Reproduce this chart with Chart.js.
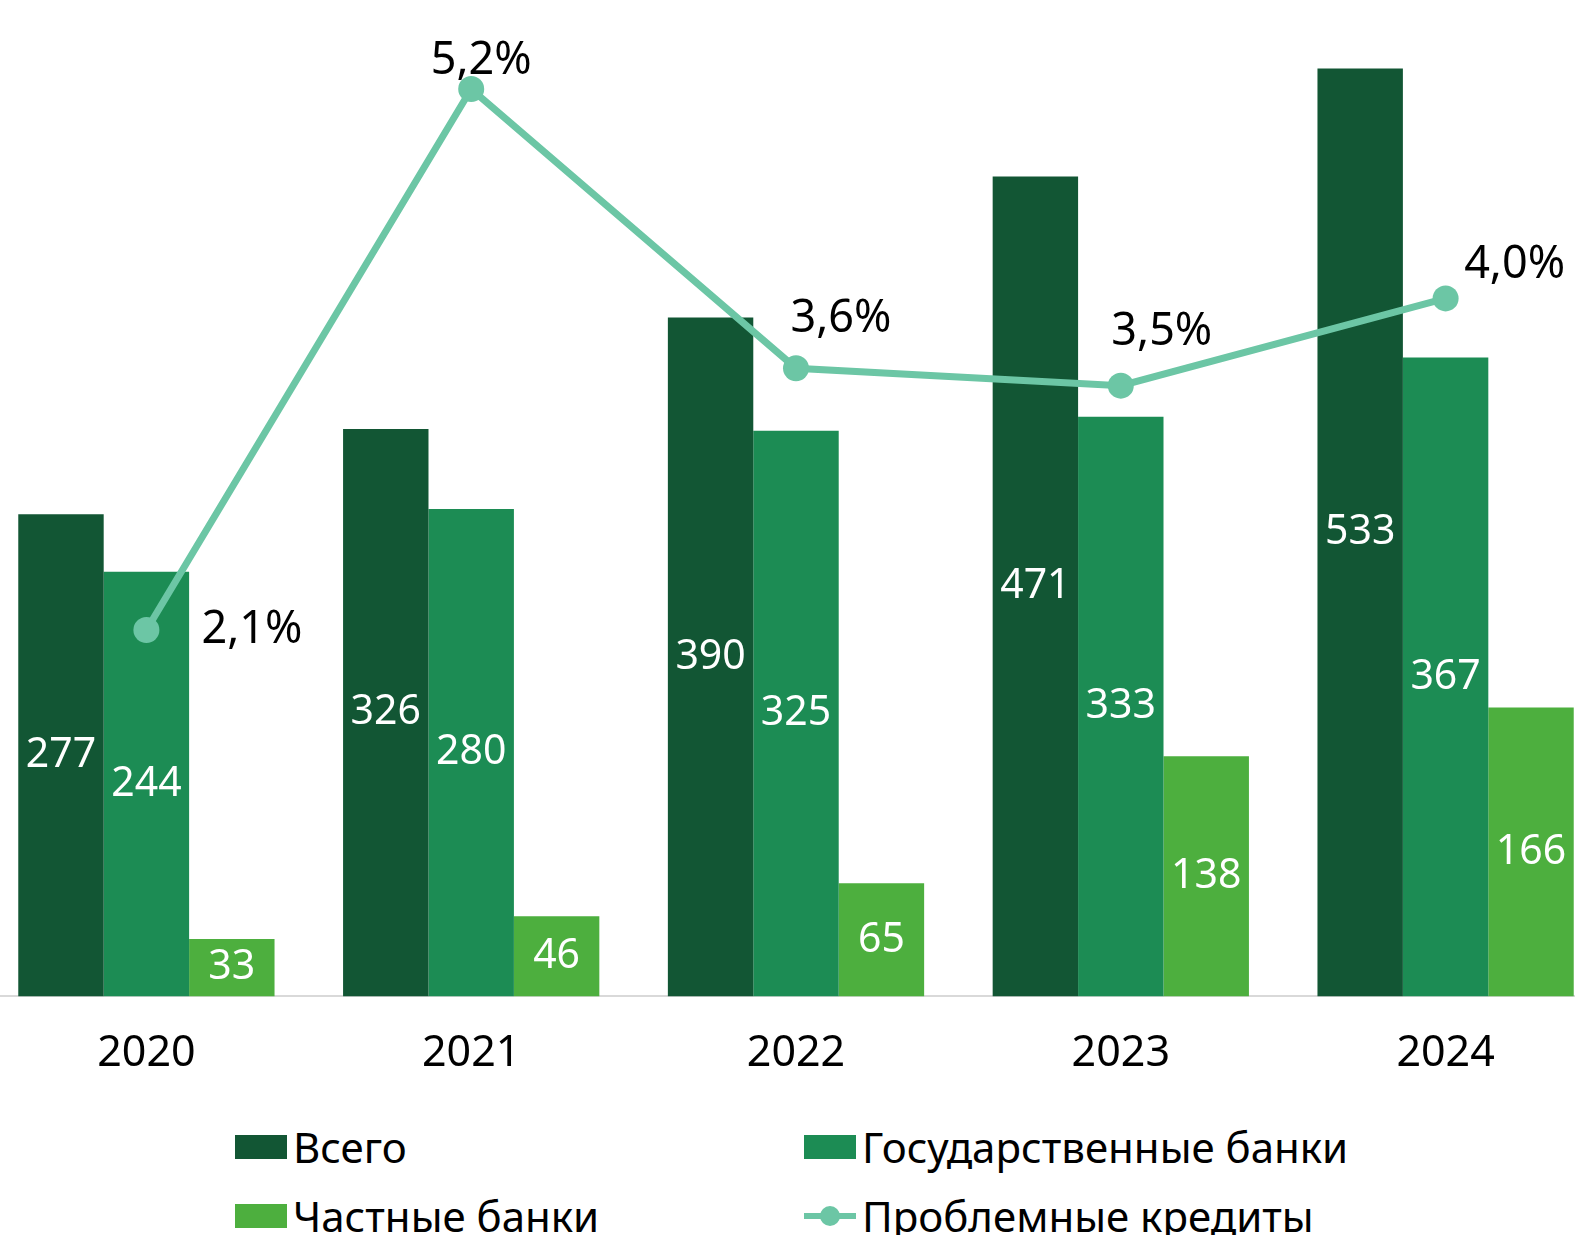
<!DOCTYPE html>
<html><head><meta charset="utf-8">
<script src="https://cdn.jsdelivr.net/npm/chart.js@4"></script>
<style>
html,body{margin:0;padding:0;background:#fff;width:1575px;height:1235px;overflow:hidden;position:relative;font-family:"Noto Sans",sans-serif;}
#c{position:absolute;left:-16px;top:0;}
.lg{position:absolute;display:flex;align-items:center;font-size:42px;color:#000;white-space:nowrap;}
.sw{width:52px;height:24px;margin-right:6px;}
.ln{width:52px;height:24px;margin-right:6px;position:relative;}
.ln:before{content:"";position:absolute;left:0;right:0;top:9px;height:6px;background:#6CC6A5;}
.ln:after{content:"";position:absolute;left:16px;top:2px;width:20px;height:20px;border-radius:50%;background:#6CC6A5;}
</style></head>
<body>
<canvas id="c" width="1624" height="1104"></canvas>
<div class="lg" style="left:235px;top:1118px"><div class="sw" style="background:#125634"></div>Всего</div>
<div class="lg" style="left:804px;top:1118px"><div class="sw" style="background:#1C8C54"></div>Государственные банки</div>
<div class="lg" style="left:235px;top:1187px"><div class="sw" style="background:#4DAF3E"></div>Частные банки</div>
<div class="lg" style="left:804px;top:1187px"><div class="ln"></div>Проблемные кредиты</div>
<script>
const years = ["2020","2021","2022","2023","2024"];
const total = [277,326,390,471,533];
const stateBanks = [244,280,325,333,367];
const privateBanks = [33,46,65,138,166];
const npl = [2.1,5.2,3.6,3.5,4.0];
const nplLabels = ["2,1%","5,2%","3,6%","3,5%","4,0%"];

const labelOffsets = [[55,0,'left'],[10,-28,'center'],[45,-49,'center'],[41,-53,'center'],[69,-33,'center']];

const labelPlugin = {
  id:'labels',
  afterDatasetsDraw(chart){
    const ctx = chart.ctx;
    ctx.save();
    ctx.textBaseline='middle';
    for(let d=0; d<3; d++){
      const meta = chart.getDatasetMeta(d);
      const ds = chart.data.datasets[d];
      meta.data.forEach((bar,i)=>{
        ctx.fillStyle='#fff';
        ctx.font='41px "Noto Sans"';
        ctx.textAlign='center';
        ctx.fillText(String(ds.data[i]), bar.x, (bar.y+bar.base)/2);
      });
    }
    const lm = chart.getDatasetMeta(3);
    lm.data.forEach((pt,i)=>{
      const o = labelOffsets[i];
      ctx.fillStyle='#000';
      ctx.font='45px "Noto Sans"';
      ctx.textAlign=o[2];
      ctx.fillText(nplLabels[i], pt.x+o[0], pt.y+o[1]);
    });
    ctx.restore();
  }
};

new Chart(document.getElementById('c'),{
  type:'bar',
  data:{
    labels:years,
    datasets:[
      {label:'Всего',data:total,backgroundColor:'#125634',order:1,yAxisID:'y'},
      {label:'Государственные банки',data:stateBanks,backgroundColor:'#1C8C54',order:1,yAxisID:'y'},
      {label:'Частные банки',data:privateBanks,backgroundColor:'#4DAF3E',order:1,yAxisID:'y'},
      {type:'line',label:'Проблемные кредиты',data:npl,borderColor:'#6CC6A5',backgroundColor:'#6CC6A5',borderWidth:7,pointRadius:13,pointBackgroundColor:'#6CC6A5',pointBorderWidth:0,order:0,yAxisID:'y2',tension:0}
    ]
  },
  options:{
    responsive:false,animation:false,
    categoryPercentage:0.789,barPercentage:1,
    layout:{padding:0,autoPadding:false},
    plugins:{legend:{display:false},tooltip:{enabled:false}},
    scales:{
      x:{grid:{display:false},border:{display:true,color:'#d9d9d9',width:2},
         ticks:{color:'#000',font:{size:43,family:'"Noto Sans"'},padding:24}},
      y:{display:false,min:0,max:572.4},
      y2:{display:false,min:0,max:5.71}
    }
  },
  plugins:[labelPlugin]
});
</script>
</body></html>
